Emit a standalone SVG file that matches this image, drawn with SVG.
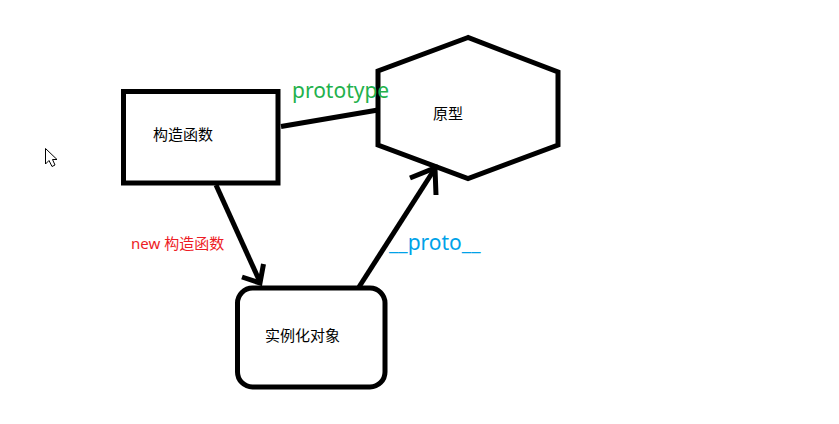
<svg xmlns="http://www.w3.org/2000/svg" width="839" height="424" viewBox="0 0 839 424">
<style>
.shape{fill:none;stroke:#000;stroke-width:5;stroke-linejoin:miter}
.line{fill:none;stroke:#000;stroke-width:5;stroke-linecap:butt}
.t{font-family:"Noto Sans CJK SC","Noto Sans",sans-serif;font-size:15px;fill:#000}
.lbl{font-family:"Noto Sans","Noto Sans CJK SC",sans-serif}
</style>
<rect width="839" height="424" fill="#fff"/>
<path d="M45.5 148.5 L45.5 164 L49 160.5 L52 166.5 L55 165 L52.5 159.5 L57 159.5 Z" fill="#fff" stroke="#000" stroke-width="1"/>
<g id="constructor">
<rect class="shape" x="123.5" y="91.5" width="154.5" height="91.5"/>
<text class="t" x="153" y="140">构造函数</text>
</g>
<g id="prototype-node">
<polygon class="shape" points="468,37.5 378,71 378,145 468,178.5 558,145 558,72"/>
<text class="t" x="433" y="119">原型</text>
</g>
<g id="instance">
<rect class="shape" x="237.5" y="288" width="147.5" height="99" rx="15" ry="15"/>
<text class="t" x="265" y="341">实例化对象</text>
</g>
<g id="connectors">
<line class="line" x1="281" y1="126.5" x2="378" y2="110"/>
<line class="line" x1="216" y1="185" x2="260" y2="282"/>
<polyline class="line" points="242,277 260,283 263.5,264"/>
<line class="line" x1="359" y1="287" x2="434" y2="170"/>
<polyline class="line" points="410,178 435,168 436,195"/>
<text class="lbl" x="292" y="98" font-size="21" fill="#22b14c">prototype</text>
<text class="lbl" x="131" y="249" font-size="15" fill="#ed1c24">new <tspan font-family="Noto Sans CJK SC, sans-serif">构造函数</tspan></text>
<text class="lbl" x="389" y="250" font-size="21" fill="#00a2e8">__proto__</text>
</g>
</svg>
